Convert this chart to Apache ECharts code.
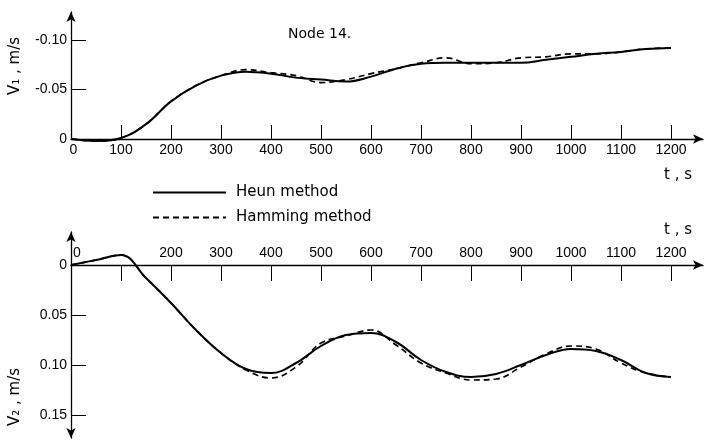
<!DOCTYPE html>
<html>
<head>
<meta charset="utf-8">
<script src="https://cdn.jsdelivr.net/npm/echarts@6/dist/echarts.min.js"></script>
<style>html,body{margin:0;padding:0;background:#fff;}#c{width:707px;height:440px;}</style>
</head>
<body>
<div id="c"></div>
<script>
// time samples (s)
const times = [0,50,100,150,200,250,300,350,400,450,500,550,600,650,700,750,800,850,900,950,1000,1050,1100,1150,1200];
// V1 (m/s), top panel
const v1Heun    = [0,0.002,-0.001,-0.015,-0.038,-0.054,-0.064,-0.068,-0.066,-0.062,-0.060,-0.058,-0.063,-0.071,-0.076,-0.077,-0.077,-0.077,-0.077,-0.080,-0.083,-0.086,-0.088,-0.091,-0.092];
const v1Hamming = [0,0.002,-0.001,-0.015,-0.038,-0.054,-0.064,-0.070,-0.067,-0.064,-0.057,-0.060,-0.066,-0.071,-0.077,-0.082,-0.076,-0.077,-0.082,-0.083,-0.086,-0.086,-0.088,-0.091,-0.092];
// V2 (m/s), bottom panel
const v2Heun    = [0,-0.005,-0.010,0.013,0.038,0.065,0.088,0.104,0.108,0.098,0.081,0.070,0.068,0.077,0.095,0.107,0.112,0.109,0.100,0.090,0.084,0.086,0.095,0.108,0.112];
const v2Hamming = [0,-0.005,-0.010,0.013,0.038,0.065,0.088,0.105,0.113,0.102,0.078,0.071,0.065,0.080,0.098,0.108,0.115,0.114,0.102,0.089,0.081,0.084,0.098,0.108,0.112];
// axis ranges / tick steps
const xRange = [0, 1200], xStep = 100;
const y1Range = [-0.10, 0], y2Range = [0, 0.15], yStep = 0.05;
const xHiddenBottomLabels = [100];

const NUMFONT = '"Liberation Sans", Arial, sans-serif';
const TXTFONT = '"DejaVu Sans", sans-serif';
const pair = (arr) => times.map((t,i)=>[t, arr[i]]);
const fmtY = v => Math.abs(v) < 1e-9 ? '0' : v.toFixed(2);
const lineCol = {color:'#000', width:1.3};
const tickStyle = {color:'#000', width:1};
const hidden = {show:false};
const zeroRich = (pad) => ({z:{padding:[0,0,0,pad], fontSize:14, fontFamily:NUMFONT, color:'#000'}});

const chart = echarts.init(document.getElementById('c'), null, {renderer:'canvas'});
chart.setOption({
  animation:false,
  backgroundColor:'#fff',
  color:['#000','#000'],
  grid:[
    {left:71, top:40, width:600, height:99},     // top data grid
    {left:71, top:265, width:600, height:150},   // bottom data grid
    {left:71, top:12, width:632, height:127},    // top axes frame (arrows)
    {left:71, top:265, width:632, height:173},   // bottom x axis (arrow)
    {left:71, top:232, width:632, height:206}    // bottom y axis (arrows)
  ],
  legend:{
    orient:'vertical', left:147, top:180, itemWidth:73, itemHeight:14, itemGap:10,
    itemStyle:{opacity:0},
    textStyle:{fontSize:15, fontFamily:TXTFONT, color:'#000', padding:[0,0,0,5]},
    data:['Heun method','Hamming method']
  },
  xAxis:[
    {gridIndex:0, type:'value', min:xRange[0], max:xRange[1], interval:xStep, position:'bottom',
     axisLine:{show:false, onZero:false},
     axisTick:{show:true, inside:true, length:14, lineStyle:tickStyle},
     axisLabel:{margin:4, fontSize:14, fontFamily:NUMFONT, color:'#000', rich:zeroRich(5),
       formatter:v=> v===0 ? '{z|0}' : String(v)},
     splitLine:hidden},
    {gridIndex:1, type:'value', min:xRange[0], max:xRange[1], interval:xStep, position:'top',
     axisLine:{show:false, onZero:false},
     axisTick:{show:true, inside:true, length:16, lineStyle:tickStyle},
     axisLabel:{margin:5, fontSize:14, fontFamily:NUMFONT, color:'#000', rich:zeroRich(12),
       formatter:v=> v===0 ? '{z|0}' : (xHiddenBottomLabels.includes(v) ? '' : String(v))},
     splitLine:hidden},
    {gridIndex:2, type:'value', min:0, max:1, position:'bottom',
     axisLine:{show:true, onZero:false, symbol:['none','arrow'], symbolSize:[7,10], lineStyle:lineCol},
     axisTick:hidden, axisLabel:hidden, splitLine:hidden},
    {gridIndex:3, type:'value', min:0, max:1, position:'top',
     axisLine:{show:true, onZero:false, symbol:['none','arrow'], symbolSize:[7,10], lineStyle:lineCol},
     axisTick:hidden, axisLabel:hidden, splitLine:hidden},
    {gridIndex:4, type:'value', min:0, max:1, show:false}
  ],
  yAxis:[
    {gridIndex:0, type:'value', inverse:true, min:y1Range[0], max:y1Range[1], interval:yStep,
     axisLine:{show:false, onZero:false},
     axisTick:{show:true, inside:true, length:15, lineStyle:tickStyle},
     axisLabel:{formatter:fmtY, margin:4, fontSize:14, fontFamily:NUMFONT, color:'#000'},
     splitLine:hidden},
    {gridIndex:1, type:'value', inverse:true, min:y2Range[0], max:y2Range[1], interval:yStep,
     axisLine:{show:false, onZero:false},
     axisTick:{show:true, inside:true, length:15, lineStyle:tickStyle},
     axisLabel:{formatter:fmtY, margin:4, fontSize:14, fontFamily:NUMFONT, color:'#000'},
     splitLine:hidden},
    {gridIndex:2, type:'value', min:0, max:1,
     axisLine:{show:true, onZero:false, symbol:['none','arrow'], symbolSize:[7,10], lineStyle:lineCol},
     axisTick:hidden, axisLabel:hidden, splitLine:hidden},
    {gridIndex:3, type:'value', min:0, max:1, show:false},
    {gridIndex:4, type:'value', min:0, max:1,
     axisLine:{show:true, onZero:false, symbol:['arrow','arrow'], symbolSize:[7,10], lineStyle:lineCol},
     axisTick:hidden, axisLabel:hidden, splitLine:hidden}
  ],
  graphic:[
    {type:'text', left:288, top:27, style:{text:'Node 14.', font:'14px '+TXTFONT, fill:'#000'}},
    {type:'text', x:15, y:66, rotation:Math.PI/2, style:{text:'V₁ , m/s', font:'15px '+TXTFONT, fill:'#000', textAlign:'center', textVerticalAlign:'middle', align:'center', verticalAlign:'middle'}},
    {type:'text', x:15, y:397, rotation:Math.PI/2, style:{text:'V₂ , m/s', font:'15px '+TXTFONT, fill:'#000', textAlign:'center', textVerticalAlign:'middle', align:'center', verticalAlign:'middle'}},
    {type:'text', left:664, top:168, style:{text:'t , s', font:'15px '+TXTFONT, fill:'#000'}},
    {type:'text', left:664, top:223, style:{text:'t , s', font:'15px '+TXTFONT, fill:'#000'}}
  ],
  series:[
    {type:'line', name:'Hamming method', xAxisIndex:0, yAxisIndex:0, data:pair(v1Hamming), clip:false, symbol:'none', smooth:0.4, itemStyle:{color:'#000'}, lineStyle:{color:'#000', width:1.7, type:[6,4]}},
    {type:'line', name:'Heun method', xAxisIndex:0, yAxisIndex:0, data:pair(v1Heun), clip:false, symbol:'none', smooth:0.4, itemStyle:{color:'#000'}, lineStyle:{color:'#000', width:2}},
    {type:'line', name:'Hamming method', xAxisIndex:1, yAxisIndex:1, data:pair(v2Hamming), clip:false, symbol:'none', smooth:0.4, itemStyle:{color:'#000'}, lineStyle:{color:'#000', width:1.7, type:[6,4]}},
    {type:'line', name:'Heun method', xAxisIndex:1, yAxisIndex:1, data:pair(v2Heun), clip:false, symbol:'none', smooth:0.4, itemStyle:{color:'#000'}, lineStyle:{color:'#000', width:2}}
  ]
});
</script>
</body>
</html>
